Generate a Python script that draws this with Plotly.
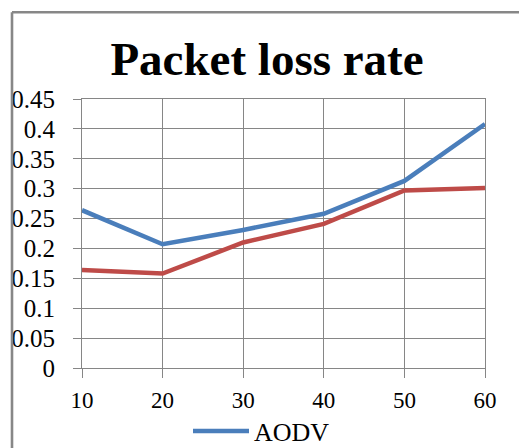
import plotly.graph_objects as go

# Node counts on the x axis and packet loss rate per protocol
nodes = [10, 20, 30, 40, 50, 60]
aodv_loss = [0.264, 0.207, 0.231, 0.258, 0.313, 0.408]
second_loss = [0.164, 0.158, 0.210, 0.241, 0.297, 0.301]
y_ticks = [0, 0.05, 0.1, 0.15, 0.2, 0.25, 0.3, 0.35, 0.4, 0.45]
y_tick_text = ["0", "0.05", "0.1", "0.15", "0.2", "0.25", "0.3", "0.35", "0.4", "0.45"]

W, H = 519, 448
L, R, T, B = 82, 34, 99, 80
GRID = "#868686"
FONT = "Liberation Serif"

fig = go.Figure()
fig.add_trace(go.Scatter(
    x=nodes, y=aodv_loss, name="AODV", mode="lines",
    line=dict(color="#4A7EBB", width=4.5),
))
fig.add_trace(go.Scatter(
    x=nodes, y=second_loss, name="", mode="lines", showlegend=False,
    line=dict(color="#BE4B48", width=4.5),
))

pw, ph = W - L - R, H - T - B


def px_x(p):
    return (p - L) / pw


def px_y(p):
    return (H - B - p) / ph


# outer frame of the chart (left and top edges)
frame = dict(color="#878787", width=2.6)
fig.add_shape(type="line", xref="paper", yref="paper",
              x0=px_x(12), x1=px_x(12), y0=px_y(12.3), y1=px_y(H + 2), line=frame)
fig.add_shape(type="line", xref="paper", yref="paper",
              x0=px_x(12), x1=px_x(W + 2), y0=px_y(12.3), y1=px_y(12.3), line=frame)

fig.update_layout(
    width=W, height=H,
    margin=dict(l=L, r=R, t=T, b=B, autoexpand=False),
    paper_bgcolor="white", plot_bgcolor="white",
    font=dict(family=FONT, color="black"),
    title=dict(text="<b>Packet loss rate</b>", font=dict(family=FONT, size=47, color="black"),
               x=267 / W, xanchor="center", xref="container",
               y=1 - 59 / H, yanchor="middle", yref="container"),
    showlegend=True,
    legend=dict(orientation="h", x=px_x(188), y=px_y(431), xanchor="left", yanchor="middle",
                font=dict(family=FONT, size=26, color="black"),
                bgcolor="rgba(0,0,0,0)", itemwidth=56, tracegroupgap=0),
)
fig.update_xaxes(
    range=[10, 60], tickvals=nodes, ticktext=[str(n) for n in nodes],
    showgrid=True, gridcolor=GRID, gridwidth=1,
    showline=True, linecolor=GRID, linewidth=1, mirror=True,
    ticks="outside", ticklen=9, tickcolor=GRID, tickwidth=1,
    tickfont=dict(family=FONT, size=23, color="black"),
    ticklabelstandoff=2, zeroline=False,
)
fig.update_yaxes(
    range=[0, 0.45], tickvals=y_ticks, ticktext=y_tick_text,
    showgrid=True, gridcolor=GRID, gridwidth=1,
    showline=True, linecolor=GRID, linewidth=1, mirror=True,
    ticks="outside", ticklen=8, tickcolor=GRID, tickwidth=1,
    tickfont=dict(family=FONT, size=25, color="black"),
    ticklabelstandoff=13, zeroline=False,
)

fig.write_html("out.html")
